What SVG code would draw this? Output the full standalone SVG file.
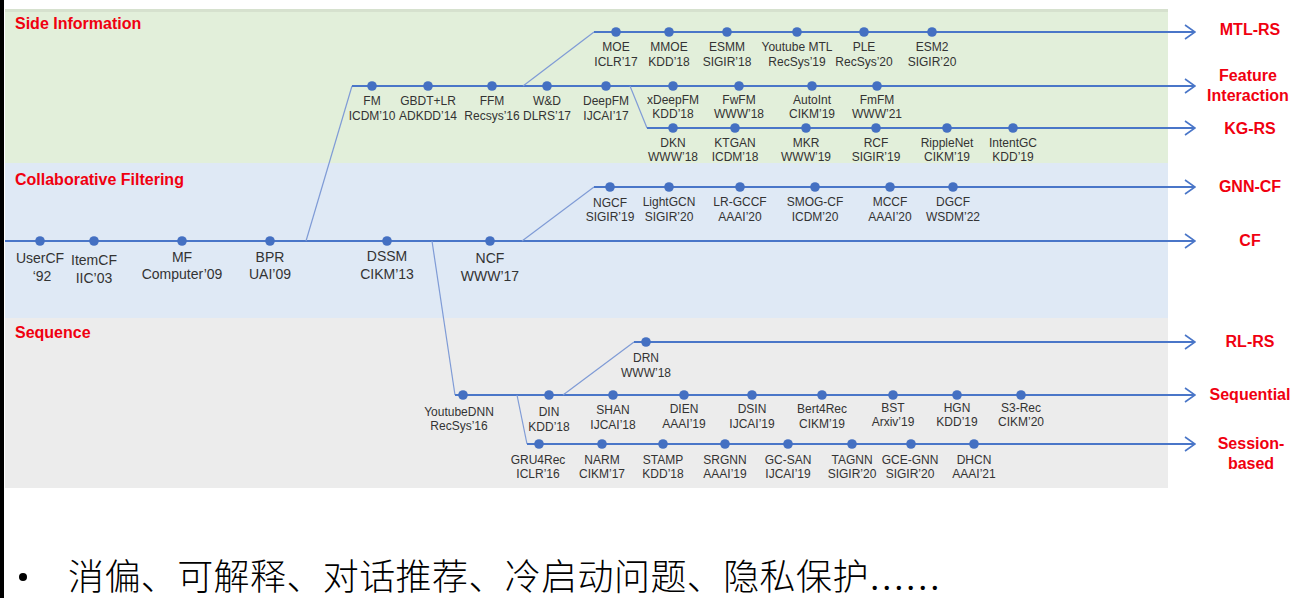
<svg xmlns="http://www.w3.org/2000/svg" width="1306" height="598" viewBox="0 0 1306 598">
<defs>
<style>
.t{font-family:"Liberation Sans",Arial,sans-serif;font-size:12px;fill:#333;text-anchor:middle}
.tl{font-family:"Liberation Sans",Arial,sans-serif;font-size:14px;fill:#333;text-anchor:middle}
.sec{font-family:"Liberation Sans",Arial,sans-serif;font-size:16px;font-weight:bold;fill:#f00010}
.end{font-family:"Liberation Sans",Arial,sans-serif;font-size:16px;font-weight:bold;fill:#f00010;text-anchor:middle}
.h{stroke:#4a76c8;stroke-width:2;fill:none}
.d{stroke:#7f9bd6;stroke-width:1.2;fill:none}
.n{fill:#4470c2}
</style>
<marker id="ar" viewBox="0 0 12 16" refX="11" refY="8" markerWidth="12" markerHeight="16" markerUnits="userSpaceOnUse" orient="auto">
<path d="M1,1 L11,8 L1,15" fill="none" stroke="#4a76c8" stroke-width="1.6"/>
</marker>
</defs>
<rect width="1306" height="598" fill="#fff"/>
<rect x="0" y="0" width="4" height="598" fill="#000"/>
<g id="panels">
<rect x="5" y="9" width="1163" height="154" fill="#e2efda"/>
<rect x="5" y="9" width="1163" height="3" fill="#d6e1ce"/>
<rect x="5" y="163" width="1163" height="155" fill="#dfe9f5"/>
<rect x="5" y="318" width="1163" height="170" fill="#ececec"/>
</g>
<g id="section-titles">
<text class="sec" x="15" y="29">Side Information</text>
<text class="sec" x="15" y="185">Collaborative Filtering</text>
<text class="sec" x="15" y="338">Sequence</text>
</g>
<g id="connectors">
<path class="h" d="M5,241 H1195" marker-end="url(#ar)"/>
<path class="d" d="M306,241 L352,86"/>
<path class="h" d="M352,86 H1195" marker-end="url(#ar)"/>
<path class="d" d="M523,86 L594,32"/>
<path class="h" d="M594,32 H1195" marker-end="url(#ar)"/>
<path class="d" d="M630,86 L647,128"/>
<path class="h" d="M647,128 H1195" marker-end="url(#ar)"/>
<path class="d" d="M522,241 L594,187"/>
<path class="h" d="M594,187 H1195" marker-end="url(#ar)"/>
<path class="d" d="M432,241 L455,395"/>
<path class="h" d="M455,395 H1195" marker-end="url(#ar)"/>
<path class="d" d="M563,395 L634,342"/>
<path class="h" d="M634,342 H1195" marker-end="url(#ar)"/>
<path class="d" d="M517,395 L527,444"/>
<path class="h" d="M527,444 H1195" marker-end="url(#ar)"/>
</g>
<g id="branch-labels">
<text class="end" x="1250" y="35">MTL-RS</text>
<text class="end" x="1248" y="81">Feature</text>
<text class="end" x="1248" y="101">Interaction</text>
<text class="end" x="1250" y="134">KG-RS</text>
<text class="end" x="1250" y="192">GNN-CF</text>
<text class="end" x="1250" y="246">CF</text>
<text class="end" x="1250" y="347">RL-RS</text>
<text class="end" x="1250" y="400">Sequential</text>
<text class="end" x="1251" y="449">Session-</text>
<text class="end" x="1251" y="469">based</text>
</g>
<g id="mtl">
<g id="n-moe"><circle class="n" cx="616" cy="32" r="4.8"/><text class="t" x="616" y="51">MOE</text><text class="t" x="616" y="66">ICLR’17</text></g>
<g id="n-mmoe"><circle class="n" cx="669" cy="32" r="4.8"/><text class="t" x="669" y="51">MMOE</text><text class="t" x="669" y="66">KDD’18</text></g>
<g id="n-esmm"><circle class="n" cx="727" cy="32" r="4.8"/><text class="t" x="727" y="51">ESMM</text><text class="t" x="727" y="66">SIGIR’18</text></g>
<g id="n-ytmtl"><circle class="n" cx="797" cy="32" r="4.8"/><text class="t" x="797" y="51">Youtube MTL</text><text class="t" x="797" y="66">RecSys’19</text></g>
<g id="n-ple"><circle class="n" cx="864" cy="32" r="4.8"/><text class="t" x="864" y="51">PLE</text><text class="t" x="864" y="66">RecSys’20</text></g>
<g id="n-esm2"><circle class="n" cx="932" cy="32" r="4.8"/><text class="t" x="932" y="51">ESM2</text><text class="t" x="932" y="66">SIGIR’20</text></g>
</g>
<g id="feature">
<g id="n-fm"><circle class="n" cx="372" cy="86" r="4.8"/><text class="t" x="372" y="105">FM</text><text class="t" x="372" y="120">ICDM’10</text></g>
<g id="n-gbdt"><circle class="n" cx="428" cy="86" r="4.8"/><text class="t" x="428" y="105">GBDT+LR</text><text class="t" x="428" y="120">ADKDD’14</text></g>
<g id="n-ffm"><circle class="n" cx="492" cy="86" r="4.8"/><text class="t" x="492" y="105">FFM</text><text class="t" x="492" y="120">Recsys’16</text></g>
<g id="n-wd"><circle class="n" cx="547" cy="86" r="4.8"/><text class="t" x="547" y="105">W&amp;D</text><text class="t" x="547" y="120">DLRS’17</text></g>
<g id="n-deepfm"><circle class="n" cx="606" cy="86" r="4.8"/><text class="t" x="606" y="105">DeepFM</text><text class="t" x="606" y="120">IJCAI’17</text></g>
<g id="n-xdeepfm"><circle class="n" cx="673" cy="86" r="4.8"/><text class="t" x="673" y="104">xDeepFM</text><text class="t" x="673" y="118">KDD’18</text></g>
<g id="n-fwfm"><circle class="n" cx="739" cy="86" r="4.8"/><text class="t" x="739" y="104">FwFM</text><text class="t" x="739" y="118">WWW’18</text></g>
<g id="n-autoint"><circle class="n" cx="812" cy="86" r="4.8"/><text class="t" x="812" y="104">AutoInt</text><text class="t" x="812" y="118">CIKM’19</text></g>
<g id="n-fmfm"><circle class="n" cx="877" cy="86" r="4.8"/><text class="t" x="877" y="104">FmFM</text><text class="t" x="877" y="118">WWW’21</text></g>
</g>
<g id="kg">
<g id="n-dkn"><circle class="n" cx="673" cy="128" r="4.8"/><text class="t" x="673" y="147">DKN</text><text class="t" x="673" y="161">WWW’18</text></g>
<g id="n-ktgan"><circle class="n" cx="735" cy="128" r="4.8"/><text class="t" x="735" y="147">KTGAN</text><text class="t" x="735" y="161">ICDM’18</text></g>
<g id="n-mkr"><circle class="n" cx="806" cy="128" r="4.8"/><text class="t" x="806" y="147">MKR</text><text class="t" x="806" y="161">WWW’19</text></g>
<g id="n-rcf"><circle class="n" cx="876" cy="128" r="4.8"/><text class="t" x="876" y="147">RCF</text><text class="t" x="876" y="161">SIGIR’19</text></g>
<g id="n-ripple"><circle class="n" cx="947" cy="128" r="4.8"/><text class="t" x="947" y="147">RippleNet</text><text class="t" x="947" y="161">CIKM’19</text></g>
<g id="n-intentgc"><circle class="n" cx="1013" cy="128" r="4.8"/><text class="t" x="1013" y="147">IntentGC</text><text class="t" x="1013" y="161">KDD’19</text></g>
</g>
<g id="gnn">
<g id="n-ngcf"><circle class="n" cx="610" cy="187" r="4.8"/><text class="t" x="610" y="207">NGCF</text><text class="t" x="610" y="221">SIGIR’19</text></g>
<g id="n-lightgcn"><circle class="n" cx="669" cy="187" r="4.8"/><text class="t" x="669" y="206">LightGCN</text><text class="t" x="669" y="221">SIGIR’20</text></g>
<g id="n-lrgccf"><circle class="n" cx="740" cy="187" r="4.8"/><text class="t" x="740" y="206">LR-GCCF</text><text class="t" x="740" y="221">AAAI’20</text></g>
<g id="n-smog"><circle class="n" cx="815" cy="187" r="4.8"/><text class="t" x="815" y="206">SMOG-CF</text><text class="t" x="815" y="221">ICDM’20</text></g>
<g id="n-mccf"><circle class="n" cx="890" cy="187" r="4.8"/><text class="t" x="890" y="206">MCCF</text><text class="t" x="890" y="221">AAAI’20</text></g>
<g id="n-dgcf"><circle class="n" cx="953" cy="187" r="4.8"/><text class="t" x="953" y="206">DGCF</text><text class="t" x="953" y="221">WSDM’22</text></g>
</g>
<g id="cf">
<g id="n-usercf"><circle class="n" cx="40" cy="241" r="4.8"/><text class="tl" x="40" y="263">UserCF</text><text class="tl" x="42" y="281">‘92</text></g>
<g id="n-itemcf"><circle class="n" cx="94" cy="241" r="4.8"/><text class="tl" x="94" y="265">ItemCF</text><text class="tl" x="94" y="283">IIC’03</text></g>
<g id="n-mf"><circle class="n" cx="182" cy="241" r="4.8"/><text class="tl" x="182" y="262">MF</text><text class="tl" x="182" y="279">Computer’09</text></g>
<g id="n-bpr"><circle class="n" cx="270" cy="241" r="4.8"/><text class="tl" x="270" y="262">BPR</text><text class="tl" x="270" y="279">UAI’09</text></g>
<g id="n-dssm"><circle class="n" cx="387" cy="241" r="4.8"/><text class="tl" x="387" y="261">DSSM</text><text class="tl" x="387" y="279">CIKM’13</text></g>
<g id="n-ncf"><circle class="n" cx="490" cy="241" r="4.8"/><text class="tl" x="490" y="263">NCF</text><text class="tl" x="490" y="281">WWW’17</text></g>
</g>
<g id="rl">
<g id="n-drn"><circle class="n" cx="646" cy="342" r="4.8"/><text class="t" x="646" y="362">DRN</text><text class="t" x="646" y="377">WWW’18</text></g>
</g>
<g id="sequential">
<g id="n-ytdnn"><circle class="n" cx="463" cy="395" r="4.8"/><text class="t" x="459" y="416">YoutubeDNN</text><text class="t" x="459" y="430">RecSys’16</text></g>
<g id="n-din"><circle class="n" cx="549" cy="395" r="4.8"/><text class="t" x="549" y="416">DIN</text><text class="t" x="549" y="431">KDD’18</text></g>
<g id="n-shan"><circle class="n" cx="613" cy="395" r="4.8"/><text class="t" x="613" y="414">SHAN</text><text class="t" x="613" y="429">IJCAI’18</text></g>
<g id="n-dien"><circle class="n" cx="684" cy="395" r="4.8"/><text class="t" x="684" y="413">DIEN</text><text class="t" x="684" y="428">AAAI’19</text></g>
<g id="n-dsin"><circle class="n" cx="752" cy="395" r="4.8"/><text class="t" x="752" y="413">DSIN</text><text class="t" x="752" y="428">IJCAI’19</text></g>
<g id="n-bert4rec"><circle class="n" cx="822" cy="395" r="4.8"/><text class="t" x="822" y="413">Bert4Rec</text><text class="t" x="822" y="428">CIKM’19</text></g>
<g id="n-bst"><circle class="n" cx="893" cy="395" r="4.8"/><text class="t" x="893" y="412">BST</text><text class="t" x="893" y="426">Arxiv’19</text></g>
<g id="n-hgn"><circle class="n" cx="957" cy="395" r="4.8"/><text class="t" x="957" y="412">HGN</text><text class="t" x="957" y="426">KDD’19</text></g>
<g id="n-s3rec"><circle class="n" cx="1021" cy="395" r="4.8"/><text class="t" x="1021" y="412">S3-Rec</text><text class="t" x="1021" y="426">CIKM’20</text></g>
</g>
<g id="session">
<g id="n-gru4rec"><circle class="n" cx="539" cy="444" r="4.8"/><text class="t" x="538" y="464">GRU4Rec</text><text class="t" x="538" y="478">ICLR’16</text></g>
<g id="n-narm"><circle class="n" cx="602" cy="444" r="4.8"/><text class="t" x="602" y="464">NARM</text><text class="t" x="602" y="478">CIKM’17</text></g>
<g id="n-stamp"><circle class="n" cx="663" cy="444" r="4.8"/><text class="t" x="663" y="464">STAMP</text><text class="t" x="663" y="478">KDD’18</text></g>
<g id="n-srgnn"><circle class="n" cx="725" cy="444" r="4.8"/><text class="t" x="725" y="464">SRGNN</text><text class="t" x="725" y="478">AAAI’19</text></g>
<g id="n-gcsan"><circle class="n" cx="788" cy="444" r="4.8"/><text class="t" x="788" y="464">GC-SAN</text><text class="t" x="788" y="478">IJCAI’19</text></g>
<g id="n-tagnn"><circle class="n" cx="852" cy="444" r="4.8"/><text class="t" x="852" y="464">TAGNN</text><text class="t" x="852" y="478">SIGIR’20</text></g>
<g id="n-gcegnn"><circle class="n" cx="911" cy="444" r="4.8"/><text class="t" x="910" y="464">GCE-GNN</text><text class="t" x="910" y="478">SIGIR’20</text></g>
<g id="n-dhcn"><circle class="n" cx="974" cy="444" r="4.8"/><text class="t" x="974" y="464">DHCN</text><text class="t" x="974" y="478">AAAI’21</text></g>
</g>
<g id="bullet">
<circle cx="23" cy="577" r="4" fill="#000"/>
<text x="68" y="590" font-family="Noto Sans CJK SC, sans-serif" font-size="36" font-weight="300" fill="#000" letter-spacing="0.4">消偏、可解释、对话推荐、冷启动问题、隐私保护<tspan font-family="Liberation Serif, serif" font-size="36" letter-spacing="0">……</tspan></text>
</g>
</svg>
